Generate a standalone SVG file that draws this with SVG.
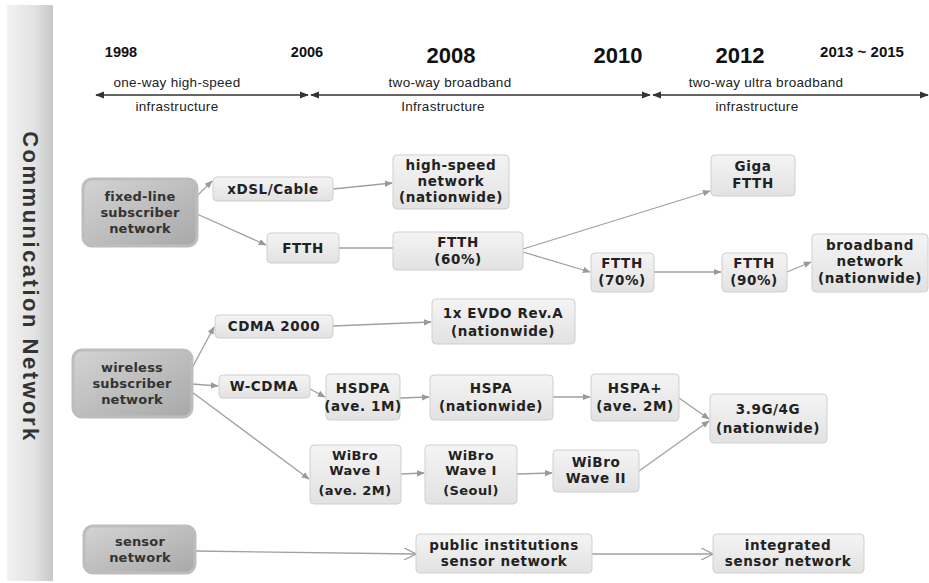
<svg xmlns="http://www.w3.org/2000/svg" width="929" height="583" viewBox="0 0 929 583">
<defs>
<linearGradient id="bar" x1="0" y1="0" x2="1" y2="0"><stop offset="0" stop-color="#f2f2f2"/><stop offset="0.6" stop-color="#e2e2e2"/><stop offset="1" stop-color="#c8c8c8"/></linearGradient>
<linearGradient id="main" x1="0" y1="0" x2="1" y2="1"><stop offset="0" stop-color="#d4d4d4"/><stop offset="1" stop-color="#a8a8a8"/></linearGradient>
<linearGradient id="box" x1="0" y1="0" x2="0" y2="1"><stop offset="0" stop-color="#f4f4f4"/><stop offset="1" stop-color="#e2e2e2"/></linearGradient>
<marker id="ah" viewBox="0 0 10 10" refX="9" refY="5" markerWidth="8" markerHeight="8" markerUnits="userSpaceOnUse" orient="auto"><path d="M0,1 L10,5 L0,9 z" fill="#9a9a9a"/></marker>
<marker id="oh" viewBox="0 0 10 10" refX="9" refY="5" markerWidth="12" markerHeight="12" markerUnits="userSpaceOnUse" orient="auto"><path d="M0,0 L10,5 L0,10" fill="none" stroke="#9a9a9a" stroke-width="1"/></marker>
<marker id="th" viewBox="0 0 10 10" refX="9" refY="5" markerWidth="9" markerHeight="9" markerUnits="userSpaceOnUse" orient="auto-start-reverse"><path d="M0,1 L10,5 L0,9 z" fill="#333"/></marker>
</defs>
<style>
.t{font-family:"DejaVu Sans",Verdana,sans-serif;font-weight:bold;font-size:13.5px;fill:#222;text-anchor:middle;letter-spacing:0.6px}
.w{font-size:13px;letter-spacing:0.4px}
.m{font-family:"DejaVu Sans",Verdana,sans-serif;font-weight:bold;font-size:13px;fill:#333;text-anchor:middle;letter-spacing:0.2px}
.b{fill:url(#box);stroke:#cfcfcf;stroke-width:1}
.mb{fill:url(#main);stroke:#bdbdbd;stroke-width:3}
.y{font-family:"Liberation Sans",Arial,sans-serif;font-weight:bold;fill:#111;text-anchor:middle}
.tl{font-family:"Liberation Sans",Arial,sans-serif;font-size:13.5px;fill:#222;text-anchor:middle;letter-spacing:0.3px}
.c{fill:none;stroke:#a0a0a0;stroke-width:1.3}
.tc{fill:none;stroke:#333;stroke-width:1.3}
</style>
<rect width="929" height="583" fill="#fff"/>
<g id="sidebar">
<rect x="7" y="5" width="46" height="576" fill="url(#bar)"/>
<text transform="translate(23,287) rotate(90)" font-family="Liberation Sans,Arial,sans-serif" font-weight="bold" font-size="22" fill="#333" text-anchor="middle" letter-spacing="2.5">Communication Network</text>
</g>
<g id="timeline">
<text class="y" x="121" y="57" font-size="14.5">1998</text>
<text class="y" x="307" y="57" font-size="14.5">2006</text>
<text class="y" x="451" y="63" font-size="22">2008</text>
<text class="y" x="618" y="63" font-size="22">2010</text>
<text class="y" x="740" y="63" font-size="22">2012</text>
<text class="y" x="862" y="57" font-size="15">2013 ~ 2015</text>
<text class="tl" x="177" y="87">one-way high-speed</text>
<text class="tl" x="177" y="111">infrastructure</text>
<text class="tl" x="450" y="87">two-way broadband</text>
<text class="tl" x="443" y="111">Infrastructure</text>
<text class="tl" x="766" y="87">two-way ultra broadband</text>
<text class="tl" x="757" y="111">infrastructure</text>
<line class="tc" x1="96" y1="95" x2="308" y2="95" marker-start="url(#th)" marker-end="url(#th)"/>
<line class="tc" x1="311" y1="95" x2="650" y2="95" marker-start="url(#th)" marker-end="url(#th)"/>
<line class="tc" x1="653" y1="95" x2="928" y2="95" marker-start="url(#th)" marker-end="url(#th)"/>
</g>
<g id="connectors">
<line class="c" x1="197" y1="196" x2="212" y2="181" marker-end="url(#ah)"/>
<line class="c" x1="197" y1="214" x2="266" y2="245" marker-end="url(#ah)"/>
<line class="c" x1="333" y1="189" x2="392" y2="183" marker-end="url(#ah)"/>
<line class="c" x1="339" y1="248" x2="393" y2="248"/>
<line class="c" x1="523" y1="249" x2="710" y2="191" marker-end="url(#ah)"/>
<line class="c" x1="523" y1="252" x2="590" y2="272" marker-end="url(#ah)"/>
<line class="c" x1="654" y1="272" x2="721" y2="272" marker-end="url(#ah)"/>
<line class="c" x1="787" y1="272" x2="811" y2="262" marker-end="url(#ah)"/>
<line class="c" x1="192" y1="368" x2="214" y2="327" marker-end="url(#ah)"/>
<line class="c" x1="192" y1="384" x2="218" y2="386" marker-end="url(#ah)"/>
<line class="c" x1="192" y1="392" x2="309" y2="479" marker-end="url(#ah)"/>
<line class="c" x1="333" y1="326" x2="431" y2="322" marker-end="url(#ah)"/>
<line class="c" x1="310" y1="389" x2="325" y2="397" marker-end="url(#ah)"/>
<line class="c" x1="400" y1="398" x2="429" y2="397" marker-end="url(#ah)"/>
<line class="c" x1="553" y1="397" x2="590" y2="397" marker-end="url(#ah)"/>
<line class="c" x1="679" y1="398" x2="709" y2="419" marker-end="url(#ah)"/>
<line class="c" x1="639" y1="471" x2="709" y2="421" marker-end="url(#ah)"/>
<line class="c" x1="401" y1="474" x2="424" y2="473" marker-end="url(#ah)"/>
<line class="c" x1="517" y1="474" x2="552" y2="473" marker-end="url(#ah)"/>
<line class="c" x1="195" y1="551" x2="415" y2="554" marker-end="url(#oh)"/>
<line class="c" x1="592" y1="554" x2="712" y2="554" marker-end="url(#oh)"/>
</g>
<g id="fixed-line">
<rect class="mb" x="83" y="179" width="114" height="67" rx="9"/>
<text class="m" x="140" y="201">fixed-line</text><text class="m" x="140" y="217">subscriber</text><text class="m" x="140" y="233">network</text>
</g>
<g id="xdsl"><rect class="b" x="213" y="177" width="120" height="24" rx="4"/><text class="t" x="273" y="194">xDSL/Cable</text></g>
<g id="highspeed"><rect class="b" x="393" y="155" width="116" height="54" rx="4"/><text class="t" x="451" y="170">high-speed</text><text class="t" x="451" y="186">network</text><text class="t" x="451" y="202">(nationwide)</text></g>
<g id="ftth"><rect class="b" x="267" y="233" width="72" height="30" rx="4"/><text class="t" x="303" y="253">FTTH</text></g>
<g id="ftth60"><rect class="b" x="393" y="232" width="130" height="38" rx="4"/><text class="t" x="458" y="247">FTTH</text><text class="t" x="458" y="264">(60%)</text></g>
<g id="giga"><rect class="b" x="711" y="155" width="84" height="41" rx="4"/><text class="t" x="753" y="171">Giga</text><text class="t" x="753" y="188">FTTH</text></g>
<g id="ftth70"><rect class="b" x="591" y="253" width="63" height="39" rx="4"/><text class="t" x="622" y="268">FTTH</text><text class="t" x="622" y="285">(70%)</text></g>
<g id="ftth90"><rect class="b" x="722" y="253" width="65" height="39" rx="4"/><text class="t" x="754" y="268">FTTH</text><text class="t" x="754" y="285">(90%)</text></g>
<g id="broadband"><rect class="b" x="812" y="234" width="116" height="58" rx="4"/><text class="t" x="870" y="250">broadband</text><text class="t" x="870" y="266">network</text><text class="t" x="870" y="283">(nationwide)</text></g>
<g id="wireless">
<rect class="mb" x="73" y="350" width="119" height="67" rx="9"/>
<text class="m" x="132" y="372">wireless</text><text class="m" x="132" y="388">subscriber</text><text class="m" x="132" y="404">network</text>
</g>
<g id="cdma"><rect class="b" x="215" y="315" width="118" height="23" rx="4"/><text class="t" x="274" y="331">CDMA 2000</text></g>
<g id="evdo"><rect class="b" x="432" y="299" width="143" height="45" rx="4"/><text class="t" x="503" y="318">1x EVDO Rev.A</text><text class="t" x="503" y="336">(nationwide)</text></g>
<g id="wcdma"><rect class="b" x="219" y="375" width="91" height="23" rx="4"/><text class="t" x="264" y="391">W-CDMA</text></g>
<g id="hsdpa"><rect class="b" x="326" y="374" width="74" height="46" rx="4"/><text class="t" x="363" y="393">HSDPA</text><text class="t" x="363" y="411">(ave. 1M)</text></g>
<g id="hspa"><rect class="b" x="430" y="375" width="123" height="45" rx="4"/><text class="t" x="491" y="393">HSPA</text><text class="t" x="491" y="411">(nationwide)</text></g>
<g id="hspaplus"><rect class="b" x="591" y="374" width="88" height="47" rx="4"/><text class="t" x="635" y="393">HSPA+</text><text class="t" x="635" y="411">(ave. 2M)</text></g>
<g id="g4"><rect class="b" x="710" y="394" width="117" height="49" rx="4"/><text class="t" x="768" y="414">3.9G/4G</text><text class="t" x="768" y="433">(nationwide)</text></g>
<g id="wibro1"><rect class="b" x="310" y="445" width="91" height="59" rx="4"/><text class="t w" x="355" y="460">WiBro</text><text class="t w" x="355" y="475">Wave I</text><text class="t w" x="355" y="495">(ave. 2M)</text></g>
<g id="wibroseoul"><rect class="b" x="425" y="445" width="92" height="59" rx="4"/><text class="t w" x="471" y="460">WiBro</text><text class="t w" x="471" y="475">Wave I</text><text class="t w" x="471" y="495">(Seoul)</text></g>
<g id="wibro2"><rect class="b" x="553" y="450" width="86" height="42" rx="4"/><text class="t" x="596" y="467">WiBro</text><text class="t" x="596" y="483">Wave II</text></g>
<g id="sensor">
<rect class="mb" x="84" y="526" width="111" height="47" rx="9"/>
<text class="m" x="140" y="546">sensor</text><text class="m" x="140" y="562">network</text>
</g>
<g id="public"><rect class="b" x="416" y="534" width="176" height="39" rx="4"/><text class="t" x="504" y="550">public institutions</text><text class="t" x="504" y="566">sensor network</text></g>
<g id="integrated"><rect class="b" x="713" y="534" width="151" height="39" rx="4"/><text class="t" x="788" y="550">integrated</text><text class="t" x="788" y="566">sensor network</text></g>
</svg>
